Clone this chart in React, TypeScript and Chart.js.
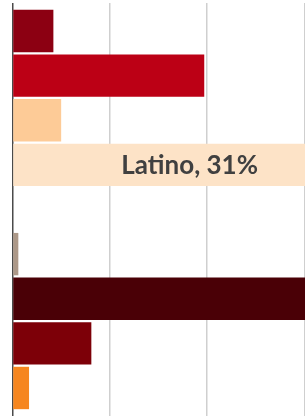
import React, { useEffect, useRef } from "react";
import { Chart, registerables } from "chart.js";

Chart.register(...registerables);

// Rows from top to bottom (row 4 is an empty gap in the picture)
const rowIndex = [0, 1, 2, 3, 4, 5, 6, 7, 8];
const values: (number | null)[] = [4.2, 19.7, 5.0, 31, null, 0.6, 33, 8.1, 1.7];
const barColors = [
  "#8C0012",
  "#BC0015",
  "#FDCB97",
  "#FDE3C7",
  "#FFFFFF",
  "#AC9888",
  "#4A0006",
  "#7D0008",
  "#F6861F",
];
const barLabels = ["", "", "", "Latino, 31%", "", "", "", "", ""];
const labelValueX = 18.2; // label centre along the value axis
const xTicks = [0, 10, 20, 30];

const labelPlugin = {
  id: "bandLabel",
  afterDatasetsDraw(chart: any) {
    const { ctx } = chart;
    const xs = chart.scales.x;
    const ys = chart.scales.y;
    ctx.save();
    ctx.font = "700 26px Lato, 'Open Sans', sans-serif";
    ctx.fillStyle = "#404040";
    ctx.textAlign = "center";
    ctx.textBaseline = "middle";
    barLabels.forEach((t, i) => {
      if (!t) return;
      ctx.fillText(t, xs.getPixelForValue(labelValueX), ys.getPixelForValue(rowIndex[i]) + 1);
    });
    ctx.restore();
  },
};

export default function App() {
  const ref = useRef<HTMLCanvasElement | null>(null);
  useEffect(() => {
    if (!ref.current) return;
    const data = rowIndex
      .map((r, i) => ({ x: values[i], y: r }))
      .filter((p) => p.x !== null);
    const colors = rowIndex
      .map((_, i) => barColors[i])
      .filter((_, i) => values[i] !== null);
    const chart = new Chart(ref.current, {
      type: "bar",
      data: {
        datasets: [
          {
            data: data as any,
            backgroundColor: colors,
            borderWidth: 0,
            barPercentage: 0.95,
            categoryPercentage: 1,
            clip: false as any,
          },
        ],
      },
      plugins: [labelPlugin],
      options: {
        indexAxis: "y",
        animation: false,
        responsive: false,
        devicePixelRatio: 1,
        layout: { padding: { left: 12.5, top: 3, right: 0.5, bottom: 0 } },
        plugins: { legend: { display: false }, tooltip: { enabled: false } },
        scales: {
          x: {
            type: "linear",
            position: "top",
            min: xTicks[0],
            max: xTicks[xTicks.length - 1],
            afterBuildTicks: (s: any) => {
              s.ticks = xTicks.map((v) => ({ value: v }));
            },
            ticks: { display: false },
            border: { display: false },
            grid: {
              drawTicks: false,
              color: (c: any) => (c.tick && c.tick.value === 0 ? "#4a4a4a" : "#cfcfcf"),
              lineWidth: 1.5,
            },
          },
          y: {
            type: "linear",
            reverse: true,
            offset: false,
            min: -0.628,
            max: 8.628,
            display: false,
            grid: { offset: false },
            afterBuildTicks: (s: any) => {
              s.ticks = rowIndex.map((v) => ({ value: v }));
            },
          },
        },
      },
    });
    return () => chart.destroy();
  }, []);
  return (
    <div style={{ position: "absolute", left: 0, top: 0, width: 305, height: 416 }}>
      <canvas ref={ref} width={305} height={416} style={{ display: "block" }} />
    </div>
  );
}
